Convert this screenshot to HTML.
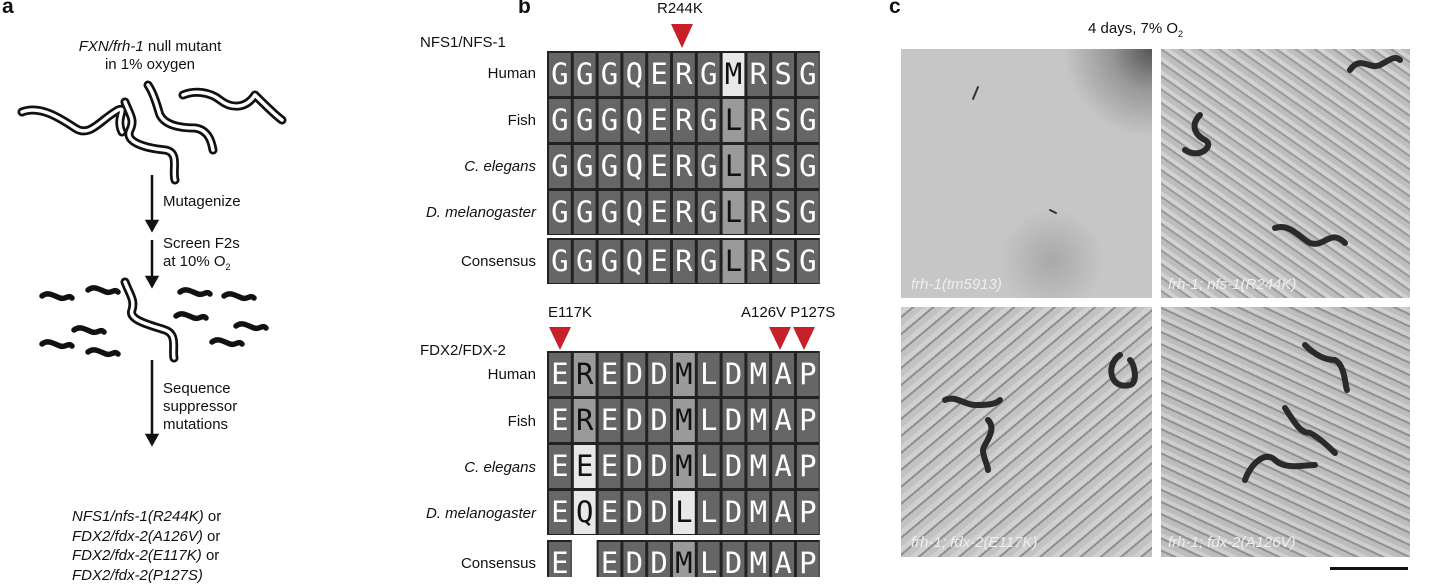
<!DOCTYPE html>
<html><head><meta charset="utf-8"><style>
body{margin:0;width:1430px;height:577px;background:#fff;overflow:hidden;position:relative;font-family:"Liberation Sans",sans-serif;color:#111}
.t{position:absolute;font-size:15px;line-height:18px;white-space:nowrap}
.b{font-weight:bold;font-size:21px}
i{font-style:italic}
.r{text-align:right}
</style></head><body>
<div class="t b" style="left:2px;top:-2px">a</div>
<div class="t b" style="left:518px;top:-2px">b</div>
<div class="t b" style="left:889px;top:-2px">c</div>

<div class="t" style="left:50px;top:38px;width:200px;text-align:center"><i>FXN/frh-1</i> null mutant<br>in 1% oxygen</div>
<div class="t" style="left:163px;top:193px">Mutagenize</div>
<div class="t" style="left:163px;top:235px">Screen F2s<br>at 10% O<sub style="font-size:9px">2</sub></div>
<div class="t" style="left:163px;top:380px">Sequence<br>suppressor<br>mutations</div>
<div class="t" style="left:72px;top:507px;line-height:19.5px"><i>NFS1/nfs-1(R244K)</i> or<br><i>FDX2/fdx-2(A126V)</i> or<br><i>FDX2/fdx-2(E117K)</i> or<br><i>FDX2/fdx-2(P127S)</i></div>

<svg width="300" height="577" style="position:absolute;left:0;top:0">
<g stroke="#111" stroke-width="2.5">
<line x1="152" y1="175" x2="152" y2="229"/><path d="M147,221 L152,230 L157,221Z" fill="#111"/>
<line x1="152" y1="240" x2="152" y2="285"/><path d="M147,277 L152,286 L157,277Z" fill="#111"/>
<line x1="152" y1="360" x2="152" y2="443"/><path d="M147,435 L152,444 L157,435Z" fill="#111"/>
</g>
<g fill="none" stroke-linecap="round" stroke-linejoin="round">
<g stroke="#111" stroke-width="9">
<path d="M22,112 C40,105 60,118 75,128 C90,138 100,120 118,110 C128,106 115,118 122,132"/>
<path d="M125,102 C130,115 135,120 130,130 C124,142 145,148 165,150 C180,152 172,170 175,180"/>
<path d="M148,85 C155,95 158,110 160,115 C165,125 180,128 195,128 C210,130 212,145 213,150"/>
<path d="M183,95 C195,90 210,92 220,100 C230,108 245,110 255,95 C265,105 275,115 282,120"/>
<path d="M125,282 C130,295 135,300 132,310 C128,320 150,325 165,330 C178,334 172,350 174,358"/>
</g>
<g stroke="#fff" stroke-width="3.5">
<path d="M22,112 C40,105 60,118 75,128 C90,138 100,120 118,110 C128,106 115,118 122,132"/>
<path d="M125,102 C130,115 135,120 130,130 C124,142 145,148 165,150 C180,152 172,170 175,180"/>
<path d="M148,85 C155,95 158,110 160,115 C165,125 180,128 195,128 C210,130 212,145 213,150"/>
<path d="M183,95 C195,90 210,92 220,100 C230,108 245,110 255,95 C265,105 275,115 282,120"/>
<path d="M125,282 C130,295 135,300 132,310 C128,320 150,325 165,330 C178,334 172,350 174,358"/>
</g>
<g stroke="#111" stroke-width="5.5">
<path d="M42,296 c6,-5 12,0 18,2 c6,2 8,-4 12,0"/>
<path d="M88,290 c6,-5 12,0 18,2 c6,2 8,-4 12,0"/>
<path d="M42,344 c6,-5 12,0 18,2 c6,2 8,-4 12,0"/>
<path d="M74,330 c6,-5 12,0 18,2 c6,2 8,-4 12,0"/>
<path d="M88,352 c6,-5 12,0 18,2 c6,2 8,-4 12,0"/>
<path d="M180,292 c6,-5 12,0 18,2 c6,2 8,-4 12,0"/>
<path d="M224,296 c6,-5 12,0 18,2 c6,2 8,-4 12,0"/>
<path d="M176,316 c6,-5 12,0 18,2 c6,2 8,-4 12,0"/>
<path d="M236,326 c6,-5 12,0 18,2 c6,2 8,-4 12,0"/>
<path d="M212,342 c6,-5 12,0 18,2 c6,2 8,-4 12,0"/>
</g>
</g>
</svg>

<div class="t" style="left:420px;top:34px">NFS1/NFS-1</div>
<div class="t" style="left:657px;top:0px">R244K</div>
<div class="t r" style="left:380px;width:156px;top:65px">Human</div>
<div class="t r" style="left:380px;width:156px;top:112px">Fish</div>
<div class="t r" style="left:380px;width:156px;top:158px"><i>C. elegans</i></div>
<div class="t r" style="left:380px;width:156px;top:204px"><i>D. melanogaster</i></div>
<div class="t r" style="left:380px;width:156px;top:253px">Consensus</div>

<div class="t" style="left:548px;top:304px">E117K</div>
<div class="t" style="left:741px;top:304px">A126V P127S</div>
<div class="t" style="left:420px;top:342px">FDX2/FDX-2</div>
<div class="t r" style="left:380px;width:156px;top:366px">Human</div>
<div class="t r" style="left:380px;width:156px;top:413px">Fish</div>
<div class="t r" style="left:380px;width:156px;top:459px"><i>C. elegans</i></div>
<div class="t r" style="left:380px;width:156px;top:505px"><i>D. melanogaster</i></div>
<div class="t r" style="left:380px;width:156px;top:555px">Consensus</div>

<svg width="300" height="577" style="position:absolute;left:540px;top:0" font-family="DejaVu Sans Mono, monospace" font-size="29">
<g fill="#c8202a">
<path d="M131,24 L153,24 L142,48Z"/>
<path d="M9,327 L31,327 L20,350Z"/>
<path d="M229,327 L251,327 L240,350Z"/>
<path d="M253,327 L275,327 L264,350Z"/>
</g>
<g id="grid"></g>
</svg>
<script>
(function(){
var g=document.getElementById('grid'),h='';
function block(x0,y0,rows,cw,rh){
 var w=cw*rows[0].length;
 h+='<rect x="'+x0+'" y="'+y0+'" width="'+w+'" height="'+(rh*rows.length)+'" fill="#222"/>';
}
function cells(x0,y0,rows,shade,cw,rh){
 rows.forEach(function(r,ri){
  for(var c=0;c<r.length;c++){
   var ch=r[c]; if(ch==' ') continue;
   var s=shade[ri][c],fill=s=='l'?'#e8e8e8':s=='m'?'#9a9a9a':'#666',tc=(s=='d')?'#fff':'#111';
   var x=x0+c*cw,y=y0+ri*rh;
   h+='<rect x="'+(x+2)+'" y="'+(y+2)+'" width="'+(cw-3)+'" height="'+(rh-3)+'" fill="'+fill+'"/>';
   h+='<text x="'+(x+cw/2+0.5)+'" y="'+(y+rh/2+10)+'" text-anchor="middle" fill="'+tc+'">'+ch+'</text>';
  }
 });
}
var cw=24.8,rh=46;
var t=['GGGQERGMRSG','GGGQERGLRSG','GGGQERGLRSG','GGGQERGLRSG'];
var ts=['dddddddlddd','dddddddmddd','dddddddmddd','dddddddmddd'];
block(7,51,t,cw,rh); cells(7,51,t,ts,cw,rh);
block(7,238,['GGGQERGLRSG'],cw,rh); cells(7,238,['GGGQERGLRSG'],['dddddddmddd'],cw,rh);
var b=['EREDDMLDMAP','EREDDMLDMAP','EEEDDMLDMAP','EQEDDLLDMAP'];
var bs=['dmdddmddddd','dmdddmddddd','dldddmddddd','dldddlddddd'];
block(7,351,b,cw,rh); cells(7,351,b,bs,cw,rh);
h+='<rect x="7" y="540" width="'+(cw)+'" height="46" fill="#222"/>';
h+='<rect x="'+(7+2*cw)+'" y="540" width="'+(cw*9)+'" height="46" fill="#222"/>';
cells(7,540,['E EDDMLDMAP'],['dddddmddddd'],cw,rh);
g.innerHTML=h;
})();
</script>

<div class="t" style="left:1088px;top:20px">4 days, 7% O<sub style="font-size:9px">2</sub></div>
<div style="position:absolute;left:901px;top:49px;width:251px;height:249px;background:radial-gradient(circle at 100% 0,#555 0,#999 12%,transparent 25%),radial-gradient(circle at 60% 85%,#a8a8a8,transparent 20%),#c6c6c6"></div>
<div style="position:absolute;left:1161px;top:49px;width:249px;height:249px;background:repeating-linear-gradient(35deg,#bdbdbd 0 5px,#9a9a9a 5px 7px,#d2d2d2 7px 11px),#bbb"></div>
<div style="position:absolute;left:901px;top:307px;width:251px;height:250px;background:repeating-linear-gradient(-40deg,#c2c2c2 0 6px,#8e8e8e 6px 8px,#d0d0d0 8px 13px),#bbb"></div>
<div style="position:absolute;left:1161px;top:307px;width:249px;height:250px;background:repeating-linear-gradient(25deg,#bcbcbc 0 5px,#909090 5px 7px,#cecece 7px 11px),#bbb"></div>
<svg width="530" height="577" style="position:absolute;left:900px;top:0" fill="none" stroke-linecap="round">
<g stroke="#2a2a2a" stroke-width="6">
<path d="M300,115 c-10,10 -5,20 5,25 c10,5 -5,20 -20,10"/>
<path d="M375,228 c15,-5 25,10 35,15 c15,5 20,-15 35,0"/>
<path d="M450,70 c10,-15 20,0 30,-5 c10,-5 15,-10 20,-5"/>
<path d="M45,400 c10,-5 20,5 30,5 c10,0 20,0 25,-5"/>
<path d="M88,420 c10,10 -5,25 -5,30 c0,8 5,15 5,20"/>
<path d="M220,355 c-15,10 -10,35 10,30 c8,-2 5,-20 0,-25"/>
<path d="M405,345 c10,10 20,15 30,15 c10,5 10,25 12,30"/>
<path d="M385,408 c10,15 15,25 25,25 c10,5 20,15 25,20"/>
<path d="M345,480 c5,-15 20,-30 30,-20 c10,10 30,5 40,5"/>
</g>
<g stroke="#333" stroke-width="2">
<path d="M78,87 l-5,12"/><path d="M150,210 l6,3"/>
</g>
</svg>
<div class="t" style="left:911px;top:276px;color:#eee"><i>frh-1(tm5913)</i></div>
<div class="t" style="left:1168px;top:276px;color:#eee"><i>frh-1; nfs-1(R244K)</i></div>
<div class="t" style="left:911px;top:534px;color:#eee"><i>frh-1; fdx-2(E117K)</i></div>
<div class="t" style="left:1168px;top:534px;color:#eee"><i>frh-1; fdx-2(A126V)</i></div>
<div style="position:absolute;left:1330px;top:567px;width:78px;height:3px;background:#111"></div>
</body></html>
